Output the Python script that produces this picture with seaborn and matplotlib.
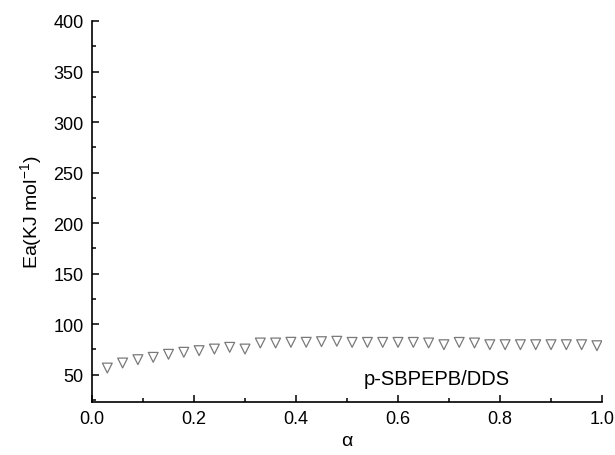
import matplotlib
matplotlib.use("Agg")
import matplotlib.pyplot as plt
import pandas as pd
import seaborn as sns
from matplotlib.ticker import MultipleLocator

# conversion alpha and activation energy
alpha = [0.03, 0.06, 0.09, 0.12, 0.15, 0.18, 0.21, 0.24, 0.27, 0.30,
         0.33, 0.36, 0.39, 0.42, 0.45, 0.48, 0.51, 0.54, 0.57, 0.60,
         0.63, 0.66, 0.69, 0.72, 0.75, 0.78, 0.81, 0.84, 0.87, 0.90,
         0.93, 0.96, 0.99]
ea = [56.6, 61.6, 64.9, 67.2, 70.2, 72.2, 73.8, 75.4, 77.1, 75.4,
      81.4, 81.4, 82.1, 82.1, 82.7, 83.1, 82.0, 82.0, 82.0, 82.0,
      82.0, 81.4, 79.7, 82.0, 81.4, 79.7, 79.7, 79.7, 79.7, 79.7,
      79.7, 79.7, 78.7]
label = "p-SBPEPB/DDS"

df = pd.DataFrame({"alpha": alpha, "ea": ea})

sns.set_style("ticks", {"axes.edgecolor": "black", "text.color": "black",
                        "axes.labelcolor": "black", "xtick.color": "black",
                        "ytick.color": "black"})
plt.rcParams["font.family"] = ["Liberation Sans", "DejaVu Sans"]

fig = plt.figure(figsize=(6.15, 4.56), dpi=100)
ax = fig.add_axes([0.1496, 0.1162, 0.8293, 0.8356])

sns.scatterplot(data=df, x="alpha", y="ea", marker="v", s=50,
                facecolors="none", edgecolors="#7a7a7a", linewidth=0.9, ax=ax)

ax.set_xlim(0, 1.0)
ax.set_ylim(23, 400)
ax.xaxis.set_major_locator(MultipleLocator(0.2))
ax.xaxis.set_minor_locator(MultipleLocator(0.1))
ax.set_yticks([50, 100, 150, 200, 250, 300, 350, 400])
ax.yaxis.set_minor_locator(MultipleLocator(25))
ax.tick_params(which="both", direction="in", width=1.1, labelsize=13, pad=6,
               colors="black")
ax.tick_params(which="major", length=5)
ax.tick_params(which="minor", length=3)
for s in ["left", "bottom"]:
    ax.spines[s].set_linewidth(1.2)
sns.despine(ax=ax)

ax.set_xlabel("α", fontsize=14, labelpad=3)
ax.set_ylabel("Ea(KJ mol$^{\\mathregular{-1}}$)", fontsize=14, labelpad=6)
ax.text(0.675, 46, label, fontsize=14.5, ha="center", va="center")

fig.savefig("out.png", dpi=100)
